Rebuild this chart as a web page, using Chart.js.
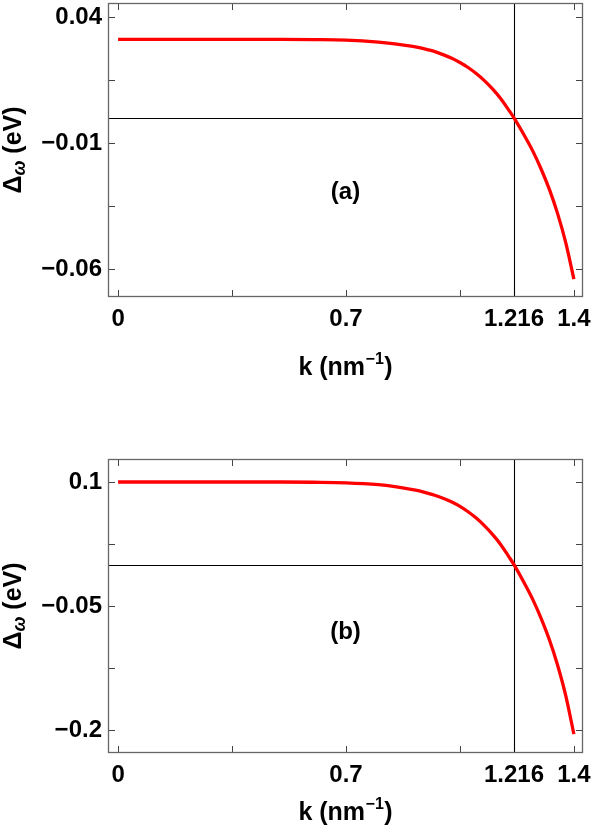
<!DOCTYPE html>
<html><head><meta charset="utf-8">
<script src="https://cdn.jsdelivr.net/npm/chart.js@4.4.0/dist/chart.umd.min.js"></script>
<style>
html,body{margin:0;padding:0;background:#fff;}
#wrap{position:relative;width:592px;height:836px;overflow:hidden;}
.panel{position:absolute;left:0;width:592px;height:418px;}
canvas{display:block;}
</style></head><body>
<div id="wrap">
<div class="panel" style="top:0"><canvas id="c1" width="592" height="418"></canvas></div>
<div class="panel" style="top:418px"><canvas id="c2" width="592" height="418"></canvas></div>
</div>
<script>
// ---- data ----
const kValues = [0, 0.1, 0.2, 0.3, 0.4, 0.5, 0.6, 0.7, 0.8, 0.85, 0.9, 0.925, 0.95, 0.975, 1.0, 1.025, 1.05, 1.075, 1.1, 1.125, 1.15, 1.175, 1.2, 1.216, 1.25, 1.275, 1.3, 1.325, 1.35, 1.375, 1.4];
const deltaA = [0.0312, 0.0312, 0.0312, 0.0312, 0.0312, 0.0312, 0.0311, 0.0309, 0.0301, 0.0294, 0.0285, 0.0279, 0.0271, 0.0262, 0.0250, 0.0237, 0.0220, 0.0200, 0.0176, 0.0148, 0.0115, 0.0077, 0.0031, 0, -0.0075, -0.0135, -0.0205, -0.0285, -0.0380, -0.0495, -0.0640];
const deltaB = [0.1, 0.1, 0.1, 0.1, 0.1, 0.1, 0.0997, 0.0990, 0.0967, 0.0944, 0.0912, 0.0892, 0.0866, 0.0836, 0.0800, 0.0757, 0.0705, 0.0640, 0.0563, 0.0472, 0.0366, 0.0245, 0.0098, 0, -0.0240, -0.0432, -0.0656, -0.0912, -0.1216, -0.1584, -0.2050];
const crossingK = 1.216;
const xTickValues = [0, 0.35, 0.7, 1.05, 1.4];          // tick marks
const xLabelValues = [0, 0.7, 1.216, 1.4];              // labelled positions
const xLabelTexts = ['0', '0.7', '1.216', '1.4'];
const yTicksA = [0.04, 0.015, -0.01, -0.035, -0.06];
const yLabelsA = ['0.04', '', '\u22120.01', '', '\u22120.06'];
const yTicksB = [0.1, 0.025, -0.05, -0.125, -0.2];
const yLabelsB = ['0.1', '', '\u22120.05', '', '\u22120.2'];
const panelLabels = ['(a)', '(b)'];

const FAM = '"Liberation Sans", Arial, Helvetica, sans-serif';
const FS = 24;
const TFS = 25;

const framePlugin = {
  id: 'frameDeco',
  beforeDatasetsDraw(chart, args, opts) {
    const ctx = chart.ctx, a = chart.chartArea;
    const xs = chart.scales.x, ys = chart.scales.y;
    ctx.save();
    ctx.strokeStyle = '#000';
    ctx.lineWidth = 1.1;
    const px = Math.round(xs.getPixelForValue(crossingK)) + 0.5;
    const py = Math.round(ys.getPixelForValue(0)) + 0.5;
    ctx.beginPath();
    ctx.moveTo(px, a.top); ctx.lineTo(px, a.bottom);
    ctx.moveTo(a.left, py); ctx.lineTo(a.right, py);
    ctx.stroke();
    ctx.restore();
  },
  afterDraw(chart, args, opts) {
    const ctx = chart.ctx, a = chart.chartArea;
    const xs = chart.scales.x, ys = chart.scales.y;
    ctx.save();
    // ticks
    ctx.strokeStyle = '#444';
    ctx.lineWidth = 1;
    const TL = 7;
    ctx.beginPath();
    xTickValues.forEach(v => {
      const x = Math.round(xs.getPixelForValue(v)) + 0.5;
      ctx.moveTo(x, a.bottom); ctx.lineTo(x, a.bottom - TL);
      ctx.moveTo(x, a.top); ctx.lineTo(x, a.top + TL);
    });
    opts.yTicks.forEach(v => {
      const y = Math.round(ys.getPixelForValue(v)) + 0.5;
      ctx.moveTo(a.left, y); ctx.lineTo(a.left + TL, y);
      ctx.moveTo(a.right, y); ctx.lineTo(a.right - TL, y);
    });
    ctx.stroke();
    // frame
    ctx.strokeStyle = '#666';
    ctx.lineWidth = 1.3;
    ctx.strokeRect(a.left + 0.5, a.top + 0.5, a.right - a.left - 1, a.bottom - a.top - 1);
    ctx.fillStyle = '#000';
    // panel label
    ctx.font = 'bold ' + FS + 'px ' + FAM;
    ctx.textAlign = 'center';
    ctx.textBaseline = 'middle';
    ctx.fillText(opts.panel, (a.left + a.right) / 2, a.top + opts.panelDy);
    // x title: k (nm^-1)
    const mainFont = 'bold ' + TFS + 'px ' + FAM;
    const supFont = 'bold 16px ' + FAM;
    const p1 = 'k (nm', p2 = '\u22121', p3 = ')';
    ctx.textAlign = 'left';
    ctx.textBaseline = 'alphabetic';
    ctx.font = mainFont; const w1 = ctx.measureText(p1).width, w3 = ctx.measureText(p3).width;
    ctx.font = supFont; const w2 = ctx.measureText(p2).width;
    const tot = w1 + w2 + w3 + 1;
    let x0 = (a.left + a.right) / 2 - tot / 2;
    const by = a.bottom + opts.xTitleDy;
    ctx.font = mainFont; ctx.fillText(p1, x0, by);
    ctx.font = supFont; ctx.fillText(p2, x0 + w1 + 0.5, by - 11);
    ctx.font = mainFont; ctx.fillText(p3, x0 + w1 + w2 + 1, by);
    // y title: Δω (eV)
    const q1 = '\u0394', q2 = '\u03c9', q3 = ' (eV)';
    const subFont = 'italic bold 18px ' + FAM;
    ctx.font = mainFont; const v1 = ctx.measureText(q1).width, v3 = ctx.measureText(q3).width;
    ctx.font = subFont; const v2 = ctx.measureText(q2).width;
    const vt = v1 + v2 + v3;
    ctx.translate(21, (a.top + a.bottom) / 2);
    ctx.rotate(-Math.PI / 2);
    let s = -vt / 2;
    ctx.font = mainFont; ctx.fillText(q1, s, 0);
    ctx.font = subFont; ctx.fillText(q2, s + v1, 4);
    ctx.font = mainFont; ctx.fillText(q3, s + v1 + v2, 0);
    ctx.restore();
  }
};

function makeChart(id, values, yTicks, yLabels, yMin, yMax, box, panel) {
  const pts = kValues.map((k, i) => ({x: k, y: values[i]}));
  return new Chart(document.getElementById(id), {
    type: 'line',
    data: {datasets: [{
      data: pts, borderColor: '#ff0000', borderWidth: 3.3, pointRadius: 0,
      cubicInterpolationMode: 'monotone', fill: false, borderCapStyle: 'butt'
    }]},
    options: {
      responsive: false, animation: false, devicePixelRatio: 1,
      layout: {padding: {left: 0, top: box.top, right: 592 - box.right, bottom: 0}},
      plugins: {
        legend: {display: false}, tooltip: {enabled: false},
        frameDeco: {yTicks: yTicks, panel: panel, panelDy: box.panelDy, xTitleDy: box.xTitleDy}
      },
      scales: {
        x: {
          type: 'linear', min: -0.031, max: 1.428,
          border: {display: false},
          grid: {display: false, drawTicks: false},
          afterBuildTicks: s => { s.ticks = xLabelValues.map(v => ({value: v})); },
          ticks: {
            callback: (v, i) => xLabelTexts[i],
            font: {family: FAM, size: FS, weight: 'bold'}, color: '#000',
            padding: 8, maxRotation: 0, autoSkip: false
          },
          afterFit: s => { s.height = 418 - box.bottom; s.paddingLeft = 0; s.paddingRight = 0; }
        },
        y: {
          type: 'linear', min: yMin, max: yMax,
          border: {display: false},
          grid: {display: false, drawTicks: false},
          afterBuildTicks: s => { s.ticks = yTicks.map(v => ({value: v})); },
          ticks: {
            callback: (v, i) => yLabels[i],
            font: {family: FAM, size: FS, weight: 'bold'}, color: '#000',
            padding: 6, autoSkip: false
          },
          afterFit: s => { s.width = box.left; s.paddingTop = 0; s.paddingBottom = 0; }
        }
      }
    },
    plugins: [framePlugin]
  });
}

makeChart('c1', deltaA, yTicksA, yLabelsA, -0.0711, 0.0456,
  {left: 108, top: 3, right: 583, bottom: 297, panelDy: 189, xTitleDy: 78}, panelLabels[0]);
makeChart('c2', deltaB, yTicksB, yLabelsB, -0.2278, 0.1278,
  {left: 108, top: 41, right: 583, bottom: 335, panelDy: 173, xTitleDy: 67}, panelLabels[1]);
</script>
</body></html>
